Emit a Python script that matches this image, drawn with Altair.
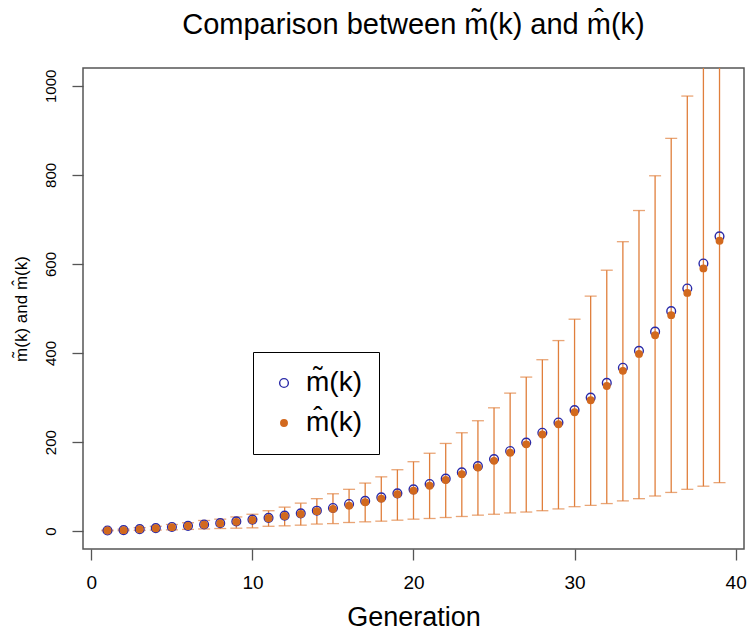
import altair as alt
import pandas as pd

# ---- data ----
generation = list(range(1, 40))
m_tilde = [1.5, 2.5, 4.5, 7, 9.5, 12, 15, 18, 22, 26, 30, 35, 40, 46, 52, 61, 68, 76, 85, 94,
           106, 118, 132, 146, 162, 180, 199, 221, 244, 272, 300, 333, 367, 405, 448, 494, 545, 601, 662]
m_hat = [1.5, 2.3, 4.3, 6.7, 9, 11.5, 14.5, 17.5, 21, 25, 29, 34, 38.5, 45, 50, 57, 65, 73, 83, 91,
         102, 115, 128, 143, 158, 176, 195, 217, 240, 267, 294, 326, 360, 398, 440, 485, 535, 590, 652]
upper = [2.5, 4.5, 8, 11, 15, 19, 24, 27, 32, 38, 46, 54, 63, 73, 84, 94, 108, 122, 138, 156,
         175, 197, 221, 248, 277, 310, 346, 385, 428, 476, 528, 586, 650, 720, 798, 882, 977, 1080, 1190]
lower = [0.8, 1.2, 1.8, 2.5, 3, 4, 5, 6, 6.7, 7.5, 11, 12, 13.5, 16, 17, 19.5, 21, 22.5, 24.7, 27,
         28.5, 30.7, 33, 36, 38, 41, 43, 46, 50, 55, 58, 62, 68, 73, 79, 87, 94, 101, 109]

label_tilde = "m\u0303(k)"
label_hat = "m\u0302(k)"
series_names = [label_tilde, label_hat]
x_ticks = [0, 10, 20, 30, 40]
y_ticks = [0, 200, 400, 600, 800, 1000]

FONT = "Liberation Sans"
BLUE = "#2a2aa8"
ORANGE = "#d2691e"
BAR = "#e07f3c"
BOX = "#555555"

bars = pd.DataFrame({"gen": generation, "lower": lower, "upper": upper})
pts = pd.concat([
    pd.DataFrame({"gen": generation, "value": m_tilde, "series": label_tilde}),
    pd.DataFrame({"gen": generation, "value": m_hat, "series": label_hat}),
], ignore_index=True)

xscale = alt.Scale(domain=[-0.52, 40.52], nice=False, zero=False)
yscale = alt.Scale(domain=[-40, 1040], nice=False, zero=False)

xaxis = alt.Axis(values=x_ticks, title="Generation", grid=False, domain=False,
                 tickSize=11, tickColor=BOX, tickWidth=1.3, labelFontSize=19,
                 labelPadding=13, labelFlush=False, labelOverlap=False,
                 titleFontSize=27, titleFontWeight="normal", titleY=76,
                 titleBaseline="alphabetic", format="d")
yaxis = alt.Axis(values=y_ticks, title=label_tilde + " and " + label_hat, grid=False,
                 domain=False, tickSize=11, tickColor=BOX, tickWidth=1.3,
                 labelFontSize=15, labelAngle=270, labelAlign="center",
                 labelBaseline="middle", labelPadding=22, labelFlush=False,
                 labelOverlap=False, titleFontSize=17, titleFontWeight="normal",
                 titleX=-62, titleBaseline="middle", format="d")

base_x = alt.X("gen:Q", scale=xscale, axis=xaxis)

rules = alt.Chart(bars).mark_rule(color=BAR, strokeWidth=1.3, clip=True).encode(
    x=base_x,
    y=alt.Y("lower:Q", scale=yscale, axis=yaxis),
    y2="upper:Q",
)

caps = alt.Chart(bars).transform_fold(["lower", "upper"], as_=["end", "yv"]).mark_tick(
    orient="horizontal", size=12, thickness=1.3, color=BAR, clip=True
).encode(
    x=alt.X("gen:Q", scale=xscale),
    y=alt.Y("yv:Q", scale=yscale),
)

points = alt.Chart(pts).mark_point(shape="circle", strokeWidth=1.4, opacity=1, clip=True).encode(
    x=alt.X("gen:Q", scale=xscale),
    y=alt.Y("value:Q", scale=yscale),
    fill=alt.Fill("series:N", title=None,
                  scale=alt.Scale(domain=series_names, range=["transparent", ORANGE])),
    stroke=alt.Stroke("series:N", title=None,
                      scale=alt.Scale(domain=series_names, range=[BLUE, ORANGE])),
    size=alt.Size("series:N", title=None,
                  scale=alt.Scale(domain=series_names, range=[76, 42])),
    order=alt.Order("series_order:Q"),
).transform_calculate(series_order="datum.series == '%s' ? 0 : 1" % label_tilde)

chart = alt.layer(rules, caps, points).properties(
    width=661,
    height=481,
    title=alt.TitleParams(
        text="Comparison between " + label_tilde + " and " + label_hat,
        fontSize=29, font=FONT, fontWeight="normal", color="black",
        anchor="middle", offset=28,
    ),
    autosize=alt.AutoSizeParams(type="none"),
    padding={"left": 75, "top": 60, "right": 4, "bottom": 82},
).configure_view(
    stroke=BOX, strokeWidth=1.5
).configure_axis(
    labelFont=FONT, titleFont=FONT, labelColor="black", titleColor="black"
).configure_legend(
    orient="none", legendX=170, legendY=284, strokeColor="black", fillColor="white",
    padding=17, labelFont=FONT, labelFontSize=28, labelColor="black",
    rowPadding=12, labelOffset=8, symbolStrokeWidth=1.4, symbolType="circle",
    cornerRadius=0,
)

chart.save("out.html", embed_options={"renderer": "svg", "actions": False})
